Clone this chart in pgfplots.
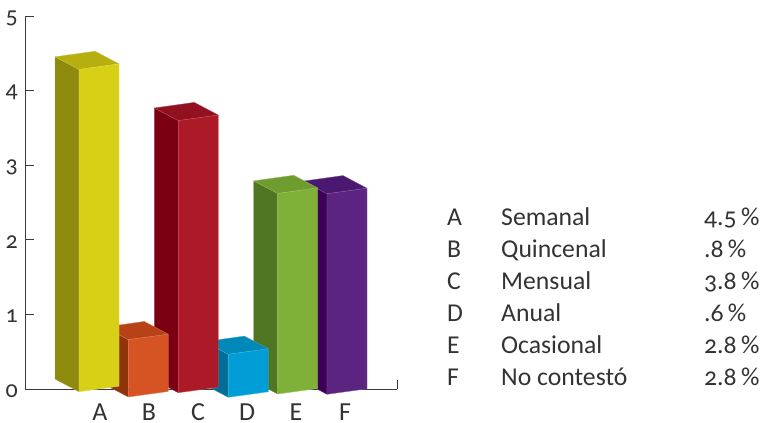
\documentclass[border=0pt]{standalone}
\usepackage{pgfplots}
\pgfplotsset{compat=1.18}
\usepackage{fontspec}
\setmainfont[Numbers=OldStyle]{Carlito}
\definecolor{txt}{HTML}{333333}
\definecolor{axl}{HTML}{3A3A3A}
\definecolor{Af}{HTML}{D7D017}\definecolor{As}{HTML}{8E8A0E}\definecolor{At}{HTML}{B6AF0F}
\definecolor{Bf}{HTML}{D65324}\definecolor{Bs}{HTML}{8F3409}\definecolor{Bt}{HTML}{B84217}
\definecolor{Cf}{HTML}{AC1A28}\definecolor{Cs}{HTML}{7A0012}\definecolor{Ct}{HTML}{921120}
\definecolor{Df}{HTML}{009DD6}\definecolor{Ds}{HTML}{006E96}\definecolor{Dt}{HTML}{0088B8}
\definecolor{Ef}{HTML}{7FB138}\definecolor{Es}{HTML}{4F7622}\definecolor{Et}{HTML}{6E9C2E}
\definecolor{Ff}{HTML}{5A2480}\definecolor{Fs}{HTML}{3C0055}\definecolor{Ft}{HTML}{4A1870}
\pgfplotsset{face/.style={fill=#1,draw=#1!75!white,line width=0.35pt,line join=round}}
\begin{document}
\begin{tikzpicture}[x=1pt,y=1pt]
\path (0,0) rectangle (761,423);
\begin{axis}[
  at={(25pt,34pt)},anchor=origin,
  scale only axis,width=372pt,height=373pt,
  xmin=25,xmax=397,ymin=0,ymax=5,clip=false,
  axis x line=bottom,axis y line=left,
  axis line style={-,color=axl,line width=0.9pt},
  xtick={100,149,198,247,296,345},
  xticklabels={A,B,C,D,E,F},
  ytick={0,1,2,3,4,5},
  /pgf/number format/assume math mode=true,
  tick style={color=axl,line width=0.9pt},
  ytick align=inside,
  major tick length=9pt,
  x tick style={draw=none},
  xticklabel style={font=\fontsize{26}{26}\selectfont,text=txt,anchor=base,inner sep=0pt,yshift=-27pt},
  yticklabel style={font=\fontsize{24}{24}\selectfont,text=txt,anchor=east,inner sep=0pt,xshift=-7pt,yshift=-2pt},
]
% right end tick of the category axis
\addplot[color=axl,line width=0.9pt] coordinates {(397,0)(397,.12)};
% F
\addplot[face=Fs] coordinates {(303,2.786)(327,2.617)(327,-.071)(303,.098)} --cycle;
\addplot[face=Ft] coordinates {(303,2.786)(343,2.861)(367,2.691)(327,2.617)} --cycle;
\addplot[face=Ff] coordinates {(327,2.617)(367,2.691)(367,.003)(327,-.071)} --cycle;
% E
\addplot[face=Es] coordinates {(253.7,2.79)(277.7,2.621)(277.7,-.067)(253.7,.102)} --cycle;
\addplot[face=Et] coordinates {(253.7,2.79)(293.7,2.865)(317.7,2.695)(277.7,2.621)} --cycle;
\addplot[face=Ef] coordinates {(277.7,2.621)(317.7,2.695)(317.7,.007)(277.7,-.067)} --cycle;
% D
\addplot[face=Ds] coordinates {(204.3,.634)(228.3,.465)(228.3,-.111)(204.3,.058)} --cycle;
\addplot[face=Dt] coordinates {(204.3,.634)(244.3,.709)(268.3,.539)(228.3,.465)} --cycle;
\addplot[face=Df] coordinates {(228.3,.465)(268.3,.539)(268.3,-.037)(228.3,-.111)} --cycle;
% C
\addplot[face=Cs] coordinates {(154.3,3.767)(178.3,3.598)(178.3,-.05)(154.3,.119)} --cycle;
\addplot[face=Ct] coordinates {(154.3,3.767)(194.3,3.842)(218.3,3.672)(178.3,3.598)} --cycle;
\addplot[face=Cf] coordinates {(178.3,3.598)(218.3,3.672)(218.3,.024)(178.3,-.05)} --cycle;
% B
\addplot[face=Bs] coordinates {(104.3,.830)(128.3,.661)(128.3,-.107)(104.3,.062)} --cycle;
\addplot[face=Bt] coordinates {(104.3,.830)(144.3,.905)(168.3,.735)(128.3,.661)} --cycle;
\addplot[face=Bf] coordinates {(128.3,.661)(168.3,.735)(168.3,-.033)(128.3,-.107)} --cycle;
% A
\addplot[face=As] coordinates {(55,4.453)(79,4.284)(79,-.036)(55,.133)} --cycle;
\addplot[face=At] coordinates {(55,4.453)(95,4.528)(119,4.358)(79,4.284)} --cycle;
\addplot[face=Af] coordinates {(79,4.284)(119,4.358)(119,.038)(79,-.036)} --cycle;
\end{axis}
\begin{scope}[every node/.style={anchor=base west,inner sep=0pt,text=txt,font=\fontsize{25.7}{27}\selectfont}]
\node at (447,197) {A};\node at (501,197) {Semanal};\node at (704,197) {4.5\,\%};
\node at (447,165) {B};\node at (501,165) {Quincenal};\node at (704,165) {.8\,\%};
\node at (447,133) {C};\node at (501,133) {Mensual};\node at (704,133) {3.8\,\%};
\node at (447,101) {D};\node at (501,101) {Anual};\node at (704,101) {.6\,\%};
\node at (447,69.5) {E};\node at (501,69.5) {Ocasional};\node at (704,69.5) {2.8\,\%};
\node at (447,37.5) {F};\node at (501,37.5) {No contestó};\node at (704,37.5) {2.8\,\%};
\end{scope}
\end{tikzpicture}
\end{document}
